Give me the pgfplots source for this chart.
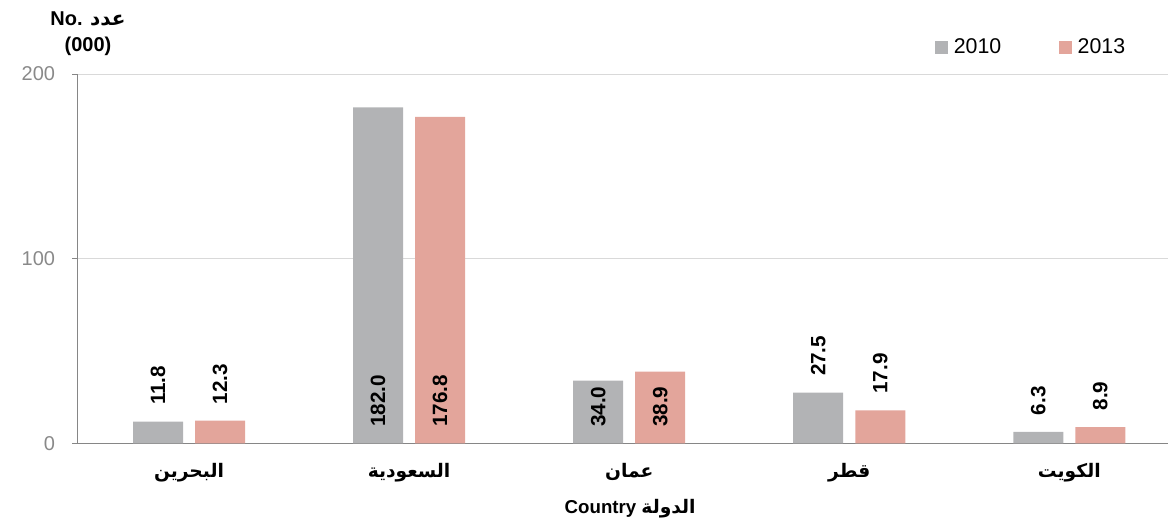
\documentclass[border=0pt]{standalone}
\usepackage{pgfplots}
\pgfplotsset{compat=1.18}
\usepackage{pgfplotstable}
\usepackage{fontspec}
\setmainfont{Liberation Sans}
\newfontfamily\arabicfont[Script=Arabic]{DejaVu Sans}
\TeXXeTstate=1

\definecolor{bargray}{RGB}{178,179,181}
\definecolor{barpink}{RGB}{227,165,155}
\definecolor{axgray}{RGB}{134,134,134}
\definecolor{gridgray}{RGB}{217,217,217}
\definecolor{ticktext}{RGB}{137,137,137}

% x = category, y = value, ly = where the label sits (0 = inside the bar)
\pgfplotstableread{
x y ly lab
0 11.8 11.8 11.8
1 182.0 0 182.0
2 34.0 0 34.0
3 27.5 27.5 27.5
4 6.3 6.3 6.3
}\dataA
\pgfplotstableread{
x y ly lab
0 12.3 12.3 12.3
1 176.8 0 176.8
2 38.9 0 38.9
3 17.9 17.9 17.9
4 8.9 8.9 8.9
}\dataB

\begin{document}
\begin{tikzpicture}
  \useasboundingbox (-57.75pt,-63.75pt) rectangle (818pt,332.5pt);
  \begin{axis}[
      at={(0,0)}, anchor=south west,
      scale only axis,
      width=826.5pt, height=277pt,
      xmin=-0.509, xmax=4.5,
      ymin=0, ymax=200,
      xtick={0,1,2,3,4},
      xticklabels={
        {\beginR البحرين\endR},
        {\beginR السعودية\endR},
        {\beginR عمان\endR},
        {\beginR قطر\endR},
        {\beginR الكويت\endR}},
      xtick style={draw=none},
      xticklabel style={font=\arabicfont\bfseries\fontsize{14}{14}\selectfont,
        anchor=north, inner sep=0pt, yshift=-11pt},
      ytick={0,100,200},
      ytick style={axgray, line width=0.75pt},
      tick align=outside,
      major tick length=3.75pt,
      yticklabel style={font=\fontsize{15}{15}\selectfont, text=ticktext,
        inner sep=0pt, xshift=-12.5pt},
      /pgf/number format/assume math mode=true,
      ymajorgrids,
      grid style={gridgray, line width=0.75pt},
      axis x line*=bottom,
      axis y line*=left,
      axis line style={-, axgray, line width=0.75pt},
      legend style={at={(0.8657,1.072)}, anchor=center, draw=none, fill=none,
        font=\fontsize{16}{16}\selectfont, legend columns=2,
        /tikz/every odd column/.append style={column sep=2.5pt},
        /tikz/every even column/.append style={column sep=41pt}},
      legend cell align=left,
      legend image code/.code={\fill[#1] (0pt,-4.9pt) rectangle (9.75pt,4.85pt);},
    ]
    \addplot[ybar, bar width=37.5pt, bar shift=-23.25pt, fill=bargray, draw=none]
      table[x=x, y=y] {\dataA};
    \addlegendentry{2010}
    \addplot[ybar, bar width=37.5pt, bar shift=23.25pt, fill=barpink, draw=none]
      table[x=x, y=y] {\dataB};
    \addlegendentry{2013}

    \addplot[draw=none, mark=none, forget plot, nodes near coords,
      point meta=explicit symbolic,
      every node near coord/.style={rotate=90, anchor=west, inner sep=0pt,
        outer xsep=12.5pt, text=black, font=\bfseries\fontsize{15.5}{15.5}\selectfont}]
      table[x expr=\thisrow{x}-0.1409, y=ly, meta=lab] {\dataA};
    \addplot[draw=none, mark=none, forget plot, nodes near coords,
      point meta=explicit symbolic,
      every node near coord/.style={rotate=90, anchor=west, inner sep=0pt,
        outer xsep=12.5pt, text=black, font=\bfseries\fontsize{15.5}{15.5}\selectfont}]
      table[x expr=\thisrow{x}+0.1409, y=ly, meta=lab] {\dataB};
  \end{axis}
  \node[align=center, font=\bfseries\fontsize{15}{20}\selectfont] at (8.25pt,307.2pt)
    {No. {\arabicfont\beginR عدد\endR}\\(000)};
  \node[font=\bfseries\fontsize{14}{14}\selectfont] at (414.75pt,-48.75pt)
    {Country {\arabicfont\beginR الدولة\endR}};
\end{tikzpicture}
\end{document}
